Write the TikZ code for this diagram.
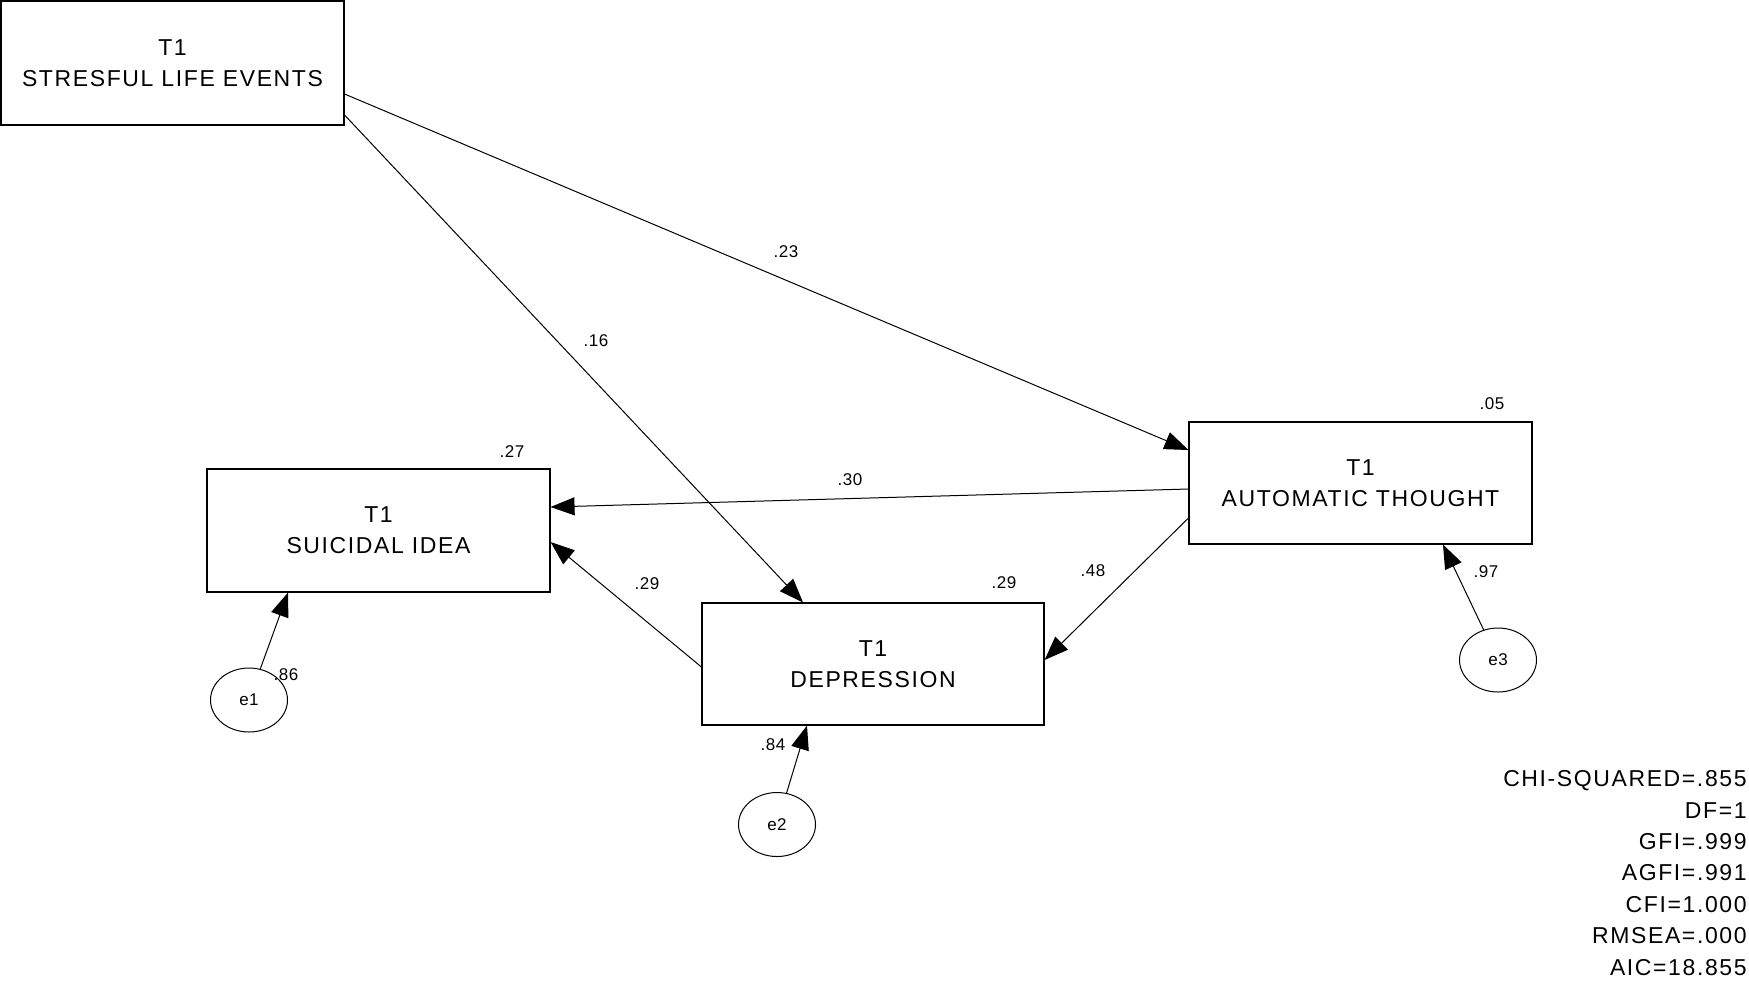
\documentclass[tikz,border=0pt]{standalone}
\usepackage{fontspec}
\setmainfont{Liberation Sans}
\newfontfamily\boxfont{Liberation Sans}[LetterSpace=7]
\newfontfamily\smallfont{Liberation Sans}[LetterSpace=3]
\usetikzlibrary{arrows.meta,shapes.geometric}
\tikzset{
  box/.style={draw, line width=0.55pt, inner sep=0pt, align=center,
    font=\boxfont\fontsize{11.5}{15.5}\selectfont},
  err/.style={draw, ellipse, line width=0.5pt, inner sep=0pt,
    minimum width=38.5pt, minimum height=32pt, font=\smallfont\fontsize{8.5}{9}\selectfont},
  arr/.style={-{Triangle[length=12pt,width=9pt]}, line width=0.5pt},
  coef/.style={font=\smallfont\fontsize{8.5}{9}\selectfont, inner sep=0pt},
  fitstat/.style={align=right, inner sep=0pt, anchor=east,
    font=\boxfont\fontsize{11.5}{15.7}\selectfont}
}
\begin{document}
\begin{tikzpicture}[x=0.5pt, y=-0.5pt]
\useasboundingbox (0,0) rectangle (1749,982);
% boxes
\node[box, minimum width=171.5pt, minimum height=62pt] (stress) at (172.5,63) {T1\\STRESFUL LIFE EVENTS};
\node[box, minimum width=171.5pt, minimum height=61pt] (auto) at (1360.5,483) {T1\\AUTOMATIC THOUGHT};
\node[box, minimum width=171.5pt, minimum height=61.5pt] (si) at (378.5,530.5) {T1\\SUICIDAL IDEA};
\node[box, minimum width=171pt, minimum height=61pt] (dep) at (873,664) {T1\\DEPRESSION};
% error terms
\node[err] (e1) at (249,700) {e1};
\node[err] (e2) at (777,824.5) {e2};
\node[err] (e3) at (1498,660) {e3};
% paths
\draw[arr] (stress.east |- 0,94) -- (auto.west |- 0,450);
\draw[arr] (stress.east |- 0,115) -- (dep.north -| 803,0);
\draw[arr] (auto.west |- 0,489) -- (si.east |- 0,507);
\draw[arr] (dep.west |- 0,667) -- (si.east |- 0,542);
\draw[arr] (auto.west |- 0,518) -- (dep.east |- 0,660);
\draw[arr] (e1) -- (si.south -| 288,0);
\draw[arr] (e2) -- (dep.south -| 807,0);
\draw[arr] (e3) -- (auto.south -| 1443,0);
% coefficients
\node[coef] (c23) at (786,252) {.23};
\node[coef] (c16) at (596,341) {.16};
\node[coef] (c05) at (1492,404) {.05};
\node[coef] (c27) at (512,452) {.27};
\node[coef] (c30) at (850,480) {.30};
\node[coef] (c29a) at (647,584) {.29};
\node[coef] (c29b) at (1004,583) {.29};
\node[coef] (c48) at (1093,571) {.48};
\node[coef] (c97) at (1486,572) {.97};
\node[coef] (c86) at (286,675) {.86};
\node[coef] (c84) at (773,745) {.84};
% fit statistics
\node[fitstat] (fit) at (1747,873) {CHI-SQUARED=.855\\DF=1\\GFI=.999\\AGFI=.991\\CFI=1.000\\RMSEA=.000\\AIC=18.855};
\end{tikzpicture}
\end{document}
